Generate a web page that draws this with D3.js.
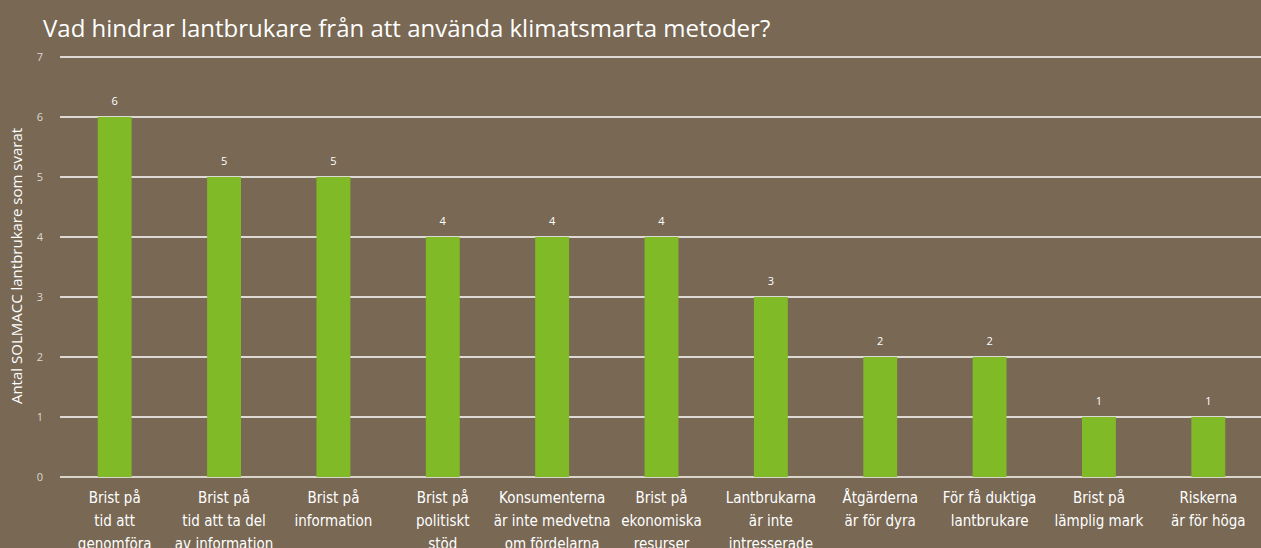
<!DOCTYPE html>
<html>
<head>
<meta charset="utf-8">
<script src="https://cdn.jsdelivr.net/npm/d3@7"></script>
<style>
  html, body { margin: 0; padding: 0; background: #786854; }
  svg { display: block; }
</style>
</head>
<body>
<svg width="1261" height="548"></svg>
<script>
(function () {

	var categories = [
		["Brist på", "tid att", "genomföra"],
		["Brist på", "tid att ta del", "av information"],
		["Brist på", "information"],
		["Brist på", "politiskt", "stöd"],
		["Konsumenterna", "är inte medvetna", "om fördelarna"],
		["Brist på", "ekonomiska", "resurser"],
		["Lantbrukarna", "är inte", "intresserade"],
		["Åtgärderna", "är för dyra"],
		["För få duktiga", "lantbrukare"],
		["Brist på", "lämplig mark"],
		["Riskerna", "är för höga"]
	];
	var values = [6, 5, 5, 4, 4, 4, 3, 2, 2, 1, 1];
	var yTicks = [0, 1, 2, 3, 4, 5, 6, 7];

	var title = "Vad hindrar lantbrukare från att använda klimatsmarta metoder?";
	var yTitle = "Antal SOLMACC lantbrukare som svarat";

	var svg = d3.select("svg");

	var xScale = d3.scaleBand()
		.domain(d3.range(categories.length))
		.range([60, 1263])
		.paddingInner(0.69)
		.paddingOuter(0.345);

	var yScale = d3.scaleLinear()
		.domain([0, 7])
		.range([477, 57]);

	// gridlines
	svg.selectAll("line.grid")
		.data(yTicks)
		.enter()
		.append("line")
		.attr("class", "grid")
		.attr("x1", 60)
		.attr("x2", 1261)
		.attr("y1", function(d){ return yScale(d); })
		.attr("y2", function(d){ return yScale(d); })
		.attr("stroke", function(d){ return d === 0 ? "#d9d4cc" : "#ffffff"; })
		.attr("stroke-width", function(d){ return d === 0 ? 2 : 1.3; });

	// tick labels
	svg.selectAll("text.tick")
		.data(yTicks)
		.enter()
		.append("text")
		.attr("class", "tick")
		.attr("x", 40)
		.attr("y", function(d){ return yScale(d) + 4; })
		.attr("text-anchor", "middle")
		.attr("fill", "#ddd8d0")
		.style("font", "11px 'Open Sans', sans-serif")
		.text(function(d){ return d; });

	svg.selectAll("rect")
		.data(values)
		.enter()
		.append("rect")
		.attr("x", function(d, i){ return xScale(i); })
		.attr("width", xScale.bandwidth())
		.attr("y", function(d){ return yScale(d); })
		.attr("height", function(d){ return yScale(0) - yScale(d); })
		.attr("fill", "#80ba27");

	svg.selectAll("text.val")
		.data(values)
		.enter()
		.append("text")
		.attr("class", "val")
		.attr("x", function(d, i){ return xScale(i) + xScale.bandwidth() / 2; })
		.attr("y", function(d){ return yScale(d) - 12; })
		.attr("text-anchor", "middle")
		.attr("fill", "#ffffff")
		.style("font", "11px 'Open Sans', sans-serif")
		.text(function(d){ return d; });

	var cat = svg.selectAll("text.cat")
		.data(categories)
		.enter()
		.append("text")
		.attr("class", "cat")
		.attr("text-anchor", "middle")
		.attr("fill", "#ffffff")
		.style("font-family", "'Liberation Sans Narrow', 'DejaVu Sans Condensed', sans-serif")
		.style("font-size", "15px");

	cat.selectAll("tspan")
		.data(function(d, i){ return d.map(function(s){ return { s: s, i: i }; }); })
		.enter()
		.append("tspan")
		.attr("x", function(d){ return xScale(d.i) + xScale.bandwidth() / 2; })
		.attr("y", function(d, j){ return 503 + j * 23; })
		.text(function(d){ return d.s; });

	svg.append("text")
		.attr("x", 43)
		.attr("y", 37)
		.attr("fill", "#ffffff")
		.style("font", "24px 'Open Sans', sans-serif")
		.text(title);

	svg.append("text")
		.attr("transform", "translate(22,266) rotate(-90)")
		.attr("text-anchor", "middle")
		.attr("fill", "#ffffff")
		.style("font", "15px 'Open Sans', sans-serif")
		.text(yTitle);

})();
</script>
</body>
</html>
